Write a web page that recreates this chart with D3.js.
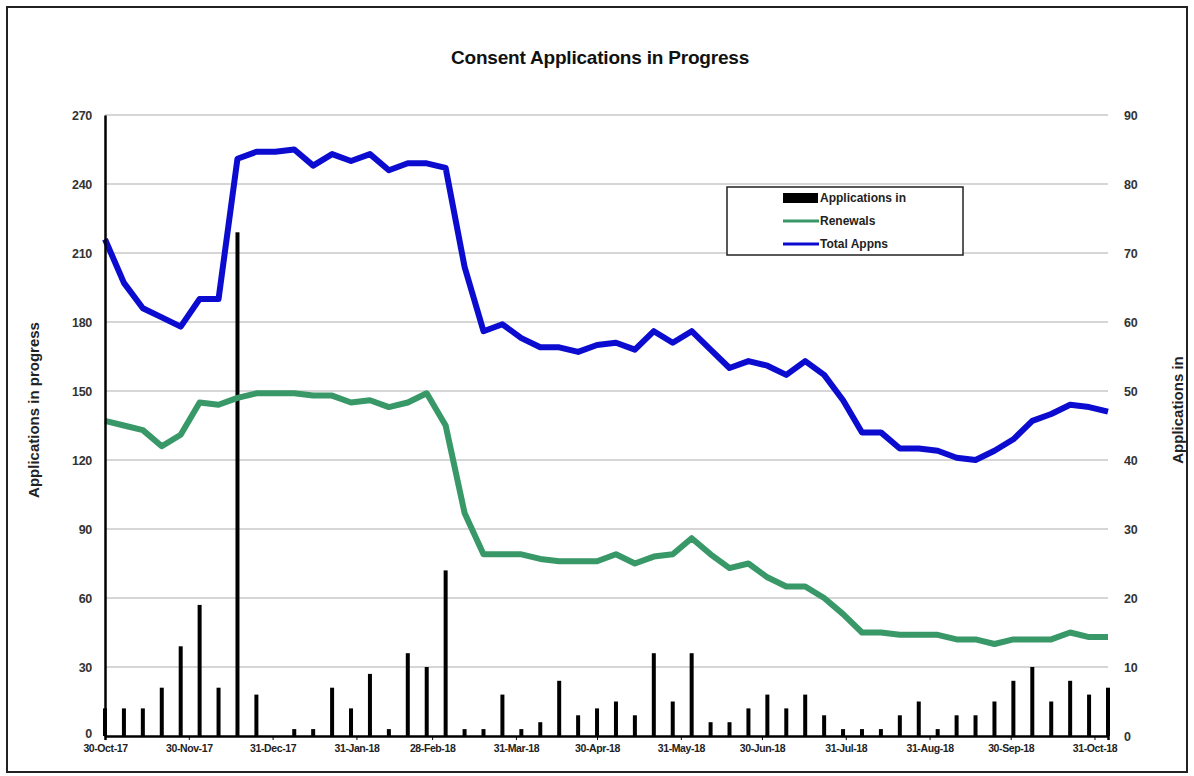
<!DOCTYPE html>
<html>
<head>
<meta charset="utf-8">
<script src="https://cdn.jsdelivr.net/npm/d3@7"></script>
<style>
  html, body { margin: 0; padding: 0; background: #fff; }
  svg { display: block; }
  text { font-family: "Liberation Sans", Arial, sans-serif; }
</style>
</head>
<body>
<svg id="chart" width="1194" height="776"></svg>
<script>
// ---- data ----
const weeks = [
  "2017-10-30","2017-11-06","2017-11-13","2017-11-20","2017-11-27","2017-12-04","2017-12-11","2017-12-18","2017-12-25",
  "2018-01-01","2018-01-08","2018-01-15","2018-01-22","2018-01-29","2018-02-05","2018-02-12","2018-02-19","2018-02-26",
  "2018-03-05","2018-03-12","2018-03-19","2018-03-26","2018-04-02","2018-04-09","2018-04-16","2018-04-23","2018-04-30",
  "2018-05-07","2018-05-14","2018-05-21","2018-05-28","2018-06-04","2018-06-11","2018-06-18","2018-06-25","2018-07-02",
  "2018-07-09","2018-07-16","2018-07-23","2018-07-30","2018-08-06","2018-08-13","2018-08-20","2018-08-27","2018-09-03",
  "2018-09-10","2018-09-17","2018-09-24","2018-10-01","2018-10-08","2018-10-15","2018-10-22","2018-10-29","2018-11-05"
];
const applicationsIn = [
  4,4,4,7,13,19,7,73,6,
  0,1,1,7,4,9,1,12,10,
  24,1,1,6,1,2,8,3,4,
  5,3,12,5,12,2,2,4,6,
  4,6,3,1,1,1,3,5,1,
  3,3,5,8,10,5,8,6,7
];
const renewals = [
  137,135,133,126,131,145,144,147,149,
  149,149,148,148,145,146,143,145,149,
  135,97,79,79,79,77,76,76,76,
  79,75,78,79,86,79,73,75,69,
  65,65,60,53,45,45,44,44,44,
  42,42,40,42,42,42,45,43,43
];
const totalAppns = [
  216,197,186,182,178,190,190,251,254,
  254,255,248,253,250,253,246,249,249,
  247,204,176,179,173,169,169,167,170,
  171,168,176,171,176,168,160,163,161,
  157,163,157,146,132,132,125,125,124,
  121,120,124,129,137,140,144,143,141
];
const tickDates = ["2017-10-30","2017-11-30","2017-12-31","2018-01-31","2018-02-28","2018-03-31","2018-04-30","2018-05-31","2018-06-30","2018-07-31","2018-08-31","2018-09-30","2018-10-31"];
const leftTicks = [0,30,60,90,120,150,180,210,240,270];
const rightTicks = [0,10,20,30,40,50,60,70,80,90];
const seriesNames = ["Applications in","Renewals","Total Appns"];

// ---- chart ----
const parse = d3.timeParse("%Y-%m-%d");
const fmt = d3.timeFormat("%-d-%b-%y");
const dates = weeks.map(parse);

const plot = {left: 105, right: 1108, top: 115, bottom: 736};
const svg = d3.select("#chart");

// outer frame
svg.append("rect").attr("x", 7).attr("y", 7).attr("width", 1180).attr("height", 765)
  .attr("fill", "#fff").attr("stroke", "#222").attr("stroke-width", 2);

const x = d3.scaleTime().domain([dates[0], dates[dates.length - 1]]).range([plot.left, plot.right]);
const yL = d3.scaleLinear().domain([0, 270]).range([plot.bottom, plot.top]);
const yR = d3.scaleLinear().domain([0, 90]).range([plot.bottom, plot.top]);

// gridlines
svg.append("g").selectAll("line").data(leftTicks.filter(d => d > 0)).join("line")
  .attr("x1", plot.left).attr("x2", plot.right)
  .attr("y1", d => yL(d)).attr("y2", d => yL(d))
  .attr("stroke", "#c8c8c8").attr("stroke-width", 1.5);

// bars (right axis)
svg.append("g").selectAll("rect").data(applicationsIn).join("rect")
  .attr("x", (d, i) => x(dates[i]) - 2)
  .attr("width", 4)
  .attr("y", d => yR(d))
  .attr("height", d => yR(0) - yR(d))
  .attr("fill", "#000");

// lines
const lineL = d3.line().x((d, i) => x(dates[i])).y(d => yL(d));
svg.append("path").datum(renewals).attr("d", lineL)
  .attr("fill", "none").attr("stroke", "#389868").attr("stroke-width", 6).attr("stroke-linejoin", "round");
svg.append("path").datum(totalAppns).attr("d", lineL)
  .attr("fill", "none").attr("stroke", "#0c0cd0").attr("stroke-width", 6).attr("stroke-linejoin", "round");

// left axis
const axL = svg.append("g").attr("transform", `translate(${plot.left},0)`)
  .call(d3.axisLeft(yL).tickValues(leftTicks).tickSize(0).tickPadding(13));
axL.select(".domain").attr("stroke", "#000").attr("stroke-width", 2.5);
axL.selectAll("text").attr("font-size", 12.5).attr("fill", "#333").attr("font-weight", "bold").attr("letter-spacing", -0.3);
axL.selectAll(".tick").filter(d => d === 0).select("text").attr("dy", "0.15em");

// right axis
const axR = svg.append("g").attr("transform", `translate(${plot.right},0)`)
  .call(d3.axisRight(yR).tickValues(rightTicks).tickSize(0).tickPadding(16));
axR.select(".domain").remove();
axR.selectAll("text").attr("font-size", 12.5).attr("fill", "#333").attr("font-weight", "bold").attr("letter-spacing", -0.3);

// bottom axis
const axB = svg.append("g").attr("transform", `translate(0,${plot.bottom})`)
  .call(d3.axisBottom(x).tickValues(tickDates.map(parse)).tickFormat(fmt).tickSize(4).tickPadding(5));
axB.select(".domain").attr("stroke", "#000").attr("stroke-width", 2.5);
axB.selectAll("line").attr("stroke", "#000");
axB.selectAll("text").attr("font-size", 10.5).attr("fill", "#222").attr("font-weight", "bold").attr("letter-spacing", -0.4);

// title
svg.append("text").attr("x", 600).attr("y", 64).attr("text-anchor", "middle")
  .attr("font-size", 19).attr("font-weight", "bold").attr("fill", "#111").attr("letter-spacing", -0.2)
  .text("Consent Applications in Progress");

// axis titles
svg.append("text").attr("transform", "translate(39,410) rotate(-90)").attr("text-anchor", "middle")
  .attr("font-size", 15).attr("font-weight", "bold").attr("fill", "#222")
  .text("Applications in progress");
svg.append("text").attr("transform", "translate(1183,410) rotate(-90)").attr("text-anchor", "middle")
  .attr("font-size", 15).attr("font-weight", "bold").attr("fill", "#222")
  .text("Applications in");

// legend
const lg = svg.append("g");
lg.append("rect").attr("x", 727).attr("y", 187).attr("width", 236).attr("height", 68)
  .attr("fill", "#fff").attr("stroke", "#222").attr("stroke-width", 1.5);
const legendY = [198, 221, 244];
lg.append("rect").attr("x", 783).attr("y", legendY[0] - 5).attr("width", 35).attr("height", 10).attr("fill", "#000");
lg.append("line").attr("x1", 783).attr("x2", 819).attr("y1", legendY[1]).attr("y2", legendY[1])
  .attr("stroke", "#389868").attr("stroke-width", 3);
lg.append("line").attr("x1", 783).attr("x2", 819).attr("y1", legendY[2]).attr("y2", legendY[2])
  .attr("stroke", "#0c0cd0").attr("stroke-width", 3);
lg.selectAll("text.lab").data(seriesNames).join("text").attr("class", "lab")
  .attr("x", 820).attr("y", (d, i) => legendY[i] + 4)
  .attr("font-size", 12).attr("font-weight", "bold").attr("fill", "#222")
  .text(d => d);
</script>
</body>
</html>
